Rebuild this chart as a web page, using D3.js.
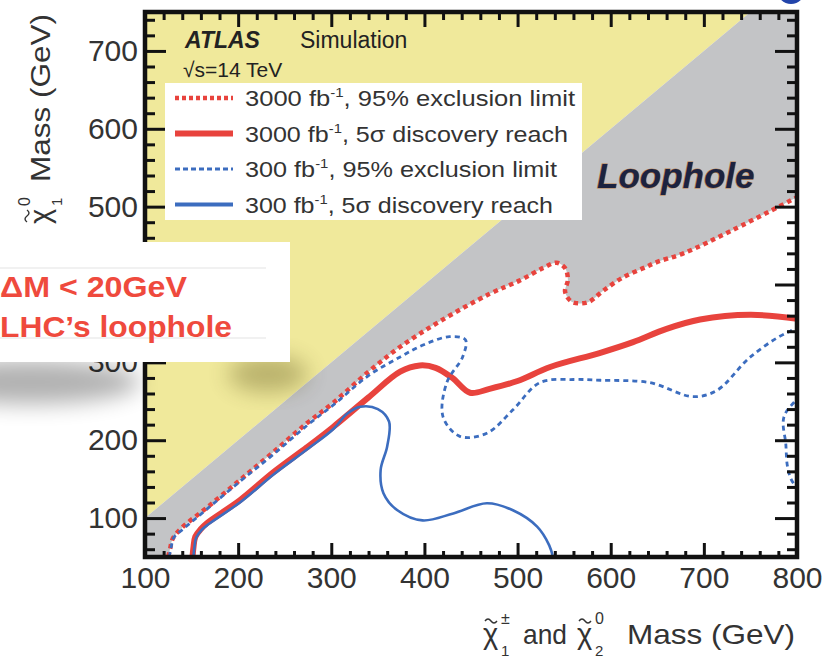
<!DOCTYPE html>
<html>
<head>
<meta charset="utf-8">
<script src="https://cdn.jsdelivr.net/npm/d3@7"></script>
<style>
body { margin: 0; background: #fff; }
svg { display: block; font-family: "Liberation Sans", Arial, Helvetica, sans-serif; }
</style>
</head>
<body>
<div id="chart"></div>
<script>
// Data (GeV)

// 3000 fb-1, 95% exclusion contour (also the lower edge of the grey "loophole" band)
var excl3000 = [[125,50],[127,61],[130,74],[140,88],[167,114],[202,149],[237,184],[274,222],[302,248],
	[340,288],[374,320],[417,353],[470,388],[502,405],[527,421],[542,428],[551,421],[554,406],[551,391],
	[558,378],[575,377],[592,392],[613,409],[635,421],[650,429],[678,440],[731,470],[800,512]];

// 3000 fb-1, 5 sigma discovery contour
var disc3000 = [[151,50],[152,62],[154,76],[160,86],[167,94],[202,123],[237,158],[274,191],[302,217],
	[340,255],[374,288],[395,296],[412,293],[430,280],[449,261],[470,266],[500,276],[535,294],[588,312],
	[624,326],[660,343],[696,355],[750,361],[800,356]];

// 300 fb-1, 95% exclusion contour (leaves the frame on the right and comes back)
var excl300 = [[126,50],[128,62],[131,75],[142,87],[168,113],[203,148],[238,182],[275,220],[303,246],
	[340,283],[374,307],[400,323],[427,333],[444,329],[441,307],[424,274],[420,230],[438,205],[467,209],
	[495,239],[524,274],[560,278],[589,277],[642,274],[688,256],[714,264],[750,307],[789,338],[812,345],
	[825,305],[806,262],[786,230],[788,195],[790,165],[796,145],[820,120]];

// 300 fb-1, 5 sigma discovery contour
var disc300 = [[152,50],[153,62],[155,75],[161,85],[168,92],[203,121],[238,156],[275,189],[302,214],
	[317,234],[331,243],[350,240],[362,224],[360,192],[353,162],[356,132],[371,110],[398,97],[431,106],
	[467,119],[495,110],[521,89],[534,65],[538,50]];

var xTicks = [100, 200, 300, 400, 500, 600, 700, 800];
var yTicks = [100, 200, 300, 400, 500, 600, 700];

var legendLumi = ['3000', '3000', '300', '300'];
var legendText = [', 95% exclusion limit', ', 5\u03c3 discovery reach', ', 95% exclusion limit', ', 5\u03c3 discovery reach'];

// Config

var width = 827, height = 659;
var red = '#e8433d', blue = '#3c6dbf';
var yellow = '#f0e99b', grey = '#c3c4c6';
var ink = '#333';

var x = d3.scaleLinear().domain([100, 800]).range([145, 797]);
var y = d3.scaleLinear().domain([50, 750]).range([557, 12]);

var svg = d3.select('#chart').append('svg')
	.attr('width', width)
	.attr('height', height);

var defs = svg.append('defs');
defs.append('clipPath').attr('id', 'plot-clip')
	.append('rect')
	.attr('x', x(100)).attr('y', y(750))
	.attr('width', x(800) - x(100)).attr('height', y(50) - y(750));
defs.append('filter').attr('id', 'blur').attr('x', '-50%').attr('y', '-50%').attr('width', '200%').attr('height', '200%')
	.append('feGaussianBlur').attr('stdDeviation', 11);

var line = d3.line()
	.x(d => x(d[0]))
	.y(d => y(d[1]))
	.curve(d3.curveCatmullRom.alpha(0.5));

var plot = svg.append('g').attr('clip-path', 'url(#plot-clip)');

// Regions

plot.append('rect')
	.attr('x', x(100)).attr('y', y(750))
	.attr('width', x(800) - x(100)).attr('height', y(50) - y(750))
	.attr('fill', '#fff');

// kinematically forbidden: m(chi1) > m(chi2)
plot.append('path')
	.attr('d', d3.line().x(d => x(d[0])).y(d => y(d[1]))([[100, 100], [750, 750], [100, 750]]) + 'Z')
	.attr('fill', yellow);

// loophole band between the diagonal and the 3000 fb-1 exclusion
var greyCorners = [[800, 750], [750, 750], [100, 100], [100, 50]];
plot.append('path')
	.attr('d', line(excl3000) + greyCorners.map(d => `L${x(d[0])},${y(d[1])}`).join('') + 'Z')
	.attr('fill', grey);

// Contours

plot.append('path').attr('d', line(disc3000))
	.attr('fill', 'none').attr('stroke', red).attr('stroke-width', 6);
plot.append('path').attr('d', line(disc300))
	.attr('fill', 'none').attr('stroke', blue).attr('stroke-width', 2.6);
plot.append('path').attr('d', line(excl3000))
	.attr('fill', 'none').attr('stroke', red).attr('stroke-width', 4.5).attr('stroke-dasharray', '4.5,4');
plot.append('path').attr('d', line(excl300))
	.attr('fill', 'none').attr('stroke', blue).attr('stroke-width', 2.8).attr('stroke-dasharray', '5,4');

// Axes

var xMinor = d3.range(120, 800, 20).filter(v => v % 100);
var yMinor = d3.range(60, 750, 20).filter(v => v % 100);

function drawAxis(axis, transform) {
	var g = svg.append('g').attr('transform', transform).call(axis);
	g.select('.domain').remove();
	g.selectAll('line').attr('stroke', '#111').attr('stroke-width', 3);
	g.selectAll('text').attr('fill', ink).style('font-size', '30px').style('font-family', '"Liberation Sans", Arial, sans-serif');
	return g;
}

drawAxis(d3.axisBottom(x).tickValues(xTicks).tickSizeInner(-14).tickSizeOuter(0).tickPadding(10), `translate(0,${y(50)})`);
drawAxis(d3.axisBottom(x).tickValues(xMinor).tickSizeInner(-6).tickSizeOuter(0).tickFormat(''), `translate(0,${y(50)})`);
drawAxis(d3.axisTop(x).tickValues(xTicks).tickSizeInner(-15).tickSizeOuter(0).tickFormat(''), `translate(0,${y(750)})`);
drawAxis(d3.axisTop(x).tickValues(xMinor).tickSizeInner(-8).tickSizeOuter(0).tickFormat(''), `translate(0,${y(750)})`);
drawAxis(d3.axisLeft(y).tickValues(yTicks).tickSizeInner(-21).tickSizeOuter(0).tickPadding(7), `translate(${x(100)},0)`);
drawAxis(d3.axisLeft(y).tickValues(yMinor).tickSizeInner(-10).tickSizeOuter(0).tickFormat(''), `translate(${x(100)},0)`);
drawAxis(d3.axisRight(y).tickValues(yTicks).tickSizeInner(-22).tickSizeOuter(0).tickFormat(''), `translate(${x(800)},0)`);
drawAxis(d3.axisRight(y).tickValues(yMinor).tickSizeInner(-10).tickSizeOuter(0).tickFormat(''), `translate(${x(800)},0)`);

svg.append('rect')
	.attr('x', x(100)).attr('y', y(750))
	.attr('width', x(800) - x(100)).attr('height', y(50) - y(750))
	.attr('fill', 'none').attr('stroke', '#111').attr('stroke-width', 4.5);

// Axis titles: chi-tilde with stacked super/subscripts

function addChi(g, cx, base, sup, sub) {
	g.append('text').attr('x', cx).attr('y', base).style('font-size', '29px').text('\u03c7');
	// tilde accent drawn as a small wave
	g.append('path')
		.attr('d', `M${cx + 2},${base - 23} q3,-4 6,0 t6,0`)
		.attr('fill', 'none').attr('stroke', ink).attr('stroke-width', 1.4);
	g.append('text').attr('x', cx + 18).attr('y', base - 20).style('font-size', '16px').text(sup);
	g.append('text').attr('x', cx + 18).attr('y', base + 12).style('font-size', '15px').text(sub);
}

var xTitle = svg.append('g').attr('fill', ink);
addChi(xTitle, 483, 644, '\u00b1', '1');
xTitle.append('text').attr('x', 523).attr('y', 644).style('font-size', '28px')
	.attr('textLength', 44).attr('lengthAdjust', 'spacingAndGlyphs').text('and');
addChi(xTitle, 577, 644, '0', '2');
xTitle.append('text').attr('x', 627).attr('y', 644).style('font-size', '28px')
	.attr('textLength', 168).attr('lengthAdjust', 'spacingAndGlyphs').text('Mass (GeV)');

var yTitle = svg.append('g').attr('fill', ink).attr('transform', 'rotate(-90)');
addChi(yTitle, -224, 50, '0', '1');
yTitle.append('text').attr('x', -182).attr('y', 50).style('font-size', '28px')
	.attr('textLength', 168).attr('lengthAdjust', 'spacingAndGlyphs').text('Mass (GeV)');

// ATLAS labels

var atlas = svg.append('g').attr('fill', '#222');
atlas.append('text').attr('x', 185).attr('y', 48).style('font-size', '23px')
	.style('font-weight', 'bold').style('font-style', 'italic').text('ATLAS');
atlas.append('text').attr('x', 300).attr('y', 48).style('font-size', '23px').text('Simulation');
atlas.append('text').attr('x', 183).attr('y', 77).style('font-size', '21px').text('\u221as=14 TeV');

svg.append('text').attr('x', 597).attr('y', 188)
	.style('font-size', '35px').style('font-weight', 'bold').style('font-style', 'italic')
	.attr('fill', '#1c2340').attr('stroke', '#b9804a').attr('stroke-width', 1).style('paint-order', 'stroke')
	.text('Loophole');

// Legend

var legend = svg.append('g');
legend.append('rect').attr('x', 165).attr('y', 83).attr('width', 417).attr('height', 137).attr('fill', '#fff');

var legendStyles = [
	{ color: red, width: 4.5, dash: '4,3' },
	{ color: red, width: 6, dash: null },
	{ color: blue, width: 2.8, dash: '5,3' },
	{ color: blue, width: 4, dash: null }
];
var legendWidths = [330, 323, 312, 308];

var rows = legend.selectAll('.legend-row')
	.data(legendLumi)
	.enter().append('g')
		.attr('class', 'legend-row')
		.attr('transform', (d, i) => `translate(0,${98 + i * 35.5})`);

rows.append('line')
	.attr('x1', 175).attr('x2', 233)
	.attr('stroke', (d, i) => legendStyles[i].color)
	.attr('stroke-width', (d, i) => legendStyles[i].width)
	.attr('stroke-dasharray', (d, i) => legendStyles[i].dash);

var rowText = rows.append('text')
	.attr('x', 245).attr('y', 8)
	.attr('fill', ink)
	.style('font-size', '22px')
	.attr('textLength', (d, i) => legendWidths[i])
	.attr('lengthAdjust', 'spacingAndGlyphs');
rowText.append('tspan').text(d => d + ' fb');
rowText.append('tspan').attr('dy', -9).style('font-size', '13px').text('-1');
rowText.append('tspan').attr('dy', 9).text((d, i) => legendText[i]);

// Overlay note with curled-paper shadow

var note = svg.append('g');
note.append('ellipse').attr('cx', 30).attr('cy', 382).attr('rx', 110).attr('ry', 22)
	.attr('fill', '#000').attr('opacity', 0.3).attr('filter', 'url(#blur)');
note.append('ellipse').attr('cx', 268).attr('cy', 374).attr('rx', 40).attr('ry', 18)
	.attr('fill', '#3a3000').attr('opacity', 0.3).attr('filter', 'url(#blur)');
note.append('rect').attr('x', -2).attr('y', 242).attr('width', 292).attr('height', 120).attr('fill', '#fff');
note.selectAll('.note-rule')
	.data([268, 338])
	.enter().append('line')
		.attr('class', 'note-rule')
		.attr('x1', 0).attr('x2', 266).attr('y1', d => d).attr('y2', d => d)
		.attr('stroke', '#ececec').attr('stroke-width', 1.5);
note.append('text').attr('x', 0).attr('y', 297)
	.attr('fill', '#ef4a3d').style('font-size', '30px').style('font-weight', 'bold')
	.attr('textLength', 187).attr('lengthAdjust', 'spacingAndGlyphs')
	.text('\u0394M < 20GeV');
note.append('text').attr('x', 0).attr('y', 337)
	.attr('fill', '#ef4a3d').style('font-size', '30px').style('font-weight', 'bold')
	.attr('textLength', 232).attr('lengthAdjust', 'spacingAndGlyphs')
	.text('LHC\u2019s loophole');

// corner badge peeking in at the top right
svg.append('circle').attr('cx', 791).attr('cy', -10).attr('r', 14).attr('fill', '#2244aa');
</script>
</body>
</html>
